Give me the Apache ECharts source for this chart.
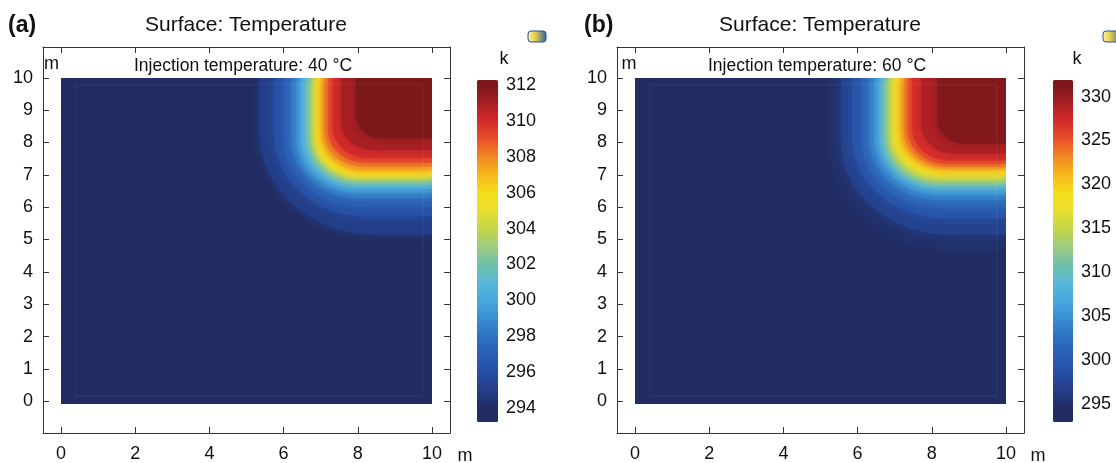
<!DOCTYPE html>
<html>
<head>
<meta charset="utf-8">
<title>Surface: Temperature</title>
<script src="https://cdn.jsdelivr.net/npm/echarts@6/dist/echarts.min.js"></script>
<style>
  html, body { margin: 0; padding: 0; background: #fff; }
  #main { width: 1116px; height: 463px; }
</style>
</head>
<body>
<div id="main"></div>
<script>
// tick labels
var xTicks = [0, 2, 4, 6, 8, 10];
var yTicks = [0, 1, 2, 3, 4, 5, 6, 7, 8, 9, 10];
var barTicksA = [294, 296, 298, 300, 302, 304, 306, 308, 310, 312];
var barTicksB = [295, 300, 305, 310, 315, 320, 325, 330];

// colour bar extent (K)
var barRangeA = [293.2, 312.3];
var barRangeB = [292.9, 331.9];

// rainbow table, spread evenly between colorRange[0] and colorRange[1]
var colorRangeA = [294, 312];
var colorRangeB = [294.5, 331.3];
var rainbow = ['#212c60', '#233e88', '#2650a5', '#2a5eb2', '#2f73c2', '#3a8ed2', '#47a8e0',
  '#58b8d8', '#70c0a8', '#9dcc80', '#c4d646', '#e8e030', '#f6dd1e', '#f7b81c', '#f08a23',
  '#e8502a', '#d52a2a', '#a81f22', '#7c171a'];

// temperature fronts:
// level (K), x where it meets the top edge, y where it meets the right edge, corner radius (m)
var levelA = [293.2, 295, 296, 297, 298, 299, 300, 301, 302, 303, 304, 305, 306, 307, 308, 309, 310, 311, 312];
var frontXA = [0, 5.35, 5.75, 6.0, 6.2, 6.35, 6.47, 6.58, 6.68, 6.76, 6.83, 6.88, 6.93, 7.02, 7.1, 7.2, 7.32, 7.55, 7.95];
var frontYA = [0, 5.2, 5.75, 6.05, 6.3, 6.47, 6.6, 6.72, 6.82, 6.9, 6.96, 7.0, 7.05, 7.15, 7.27, 7.4, 7.55, 7.8, 8.15];
var cornerA = [0, 3.1, 2.5, 2.1, 1.85, 1.65, 1.5, 1.4, 1.3, 1.25, 1.2, 1.15, 1.15, 1.1, 1.05, 1.0, 0.95, 0.85, 0.7];

var levelB = [292.9, 295, 297, 299, 301, 303, 305, 307, 309, 311, 313, 315, 317, 319, 321, 323, 325, 327, 329, 331];
var frontXB = [0, 5.2, 5.55, 5.85, 6.1, 6.3, 6.45, 6.58, 6.68, 6.76, 6.83, 6.9, 6.97, 7.05, 7.15, 7.25, 7.35, 7.47, 7.72, 8.15];
var frontYB = [0, 4.7, 5.2, 5.7, 6.0, 6.25, 6.42, 6.58, 6.68, 6.76, 6.83, 6.92, 7.02, 7.1, 7.2, 7.28, 7.37, 7.47, 7.68, 7.98];
var cornerB = [0, 3.3, 2.9, 2.5, 2.15, 1.9, 1.75, 1.6, 1.5, 1.42, 1.36, 1.3, 1.25, 1.2, 1.15, 1.1, 1.05, 1.0, 0.9, 0.75];

// faint mesh boundary inside the domain (m)
var meshEdge = [[0.4, 0.25, 9.75, 9.8]];

var FONT = '"Liberation Sans", Arial, Helvetica, sans-serif';
var INK = '#111';

function rows(lv, fx, fy, rc) {
  return lv.map(function (t, i) { return [t, fx[i], fy[i], rc[i]]; });
}

// region at or above a level: rounded corner front anchored at the top right
function renderFront(params, api) {
  var a = api.value(1), b = api.value(2), r = api.value(3);
  var pts = [api.coord([a, 10])];
  for (var i = 0; i <= 16; i++) {
    var t = Math.PI * (1 + i / 32);
    pts.push(api.coord([a + r + r * Math.cos(t), b + r + r * Math.sin(t)]));
  }
  pts.push(api.coord([10, b]), api.coord([10, 10]));
  var c = api.visual('color');
  var style = { fill: c };
  if (params.dataIndex > 0) {
    // soften the band edges like the smooth shading of the original
    style.shadowBlur = 10;
    style.shadowColor = c;
  }
  return { type: 'polygon', shape: { points: pts }, style: style };
}

function renderMesh(params, api) {
  var p0 = api.coord([api.value(0), api.value(1)]);
  var p1 = api.coord([api.value(2), api.value(3)]);
  return {
    type: 'rect',
    shape: { x: p0[0], y: p1[1], width: p1[0] - p0[0], height: p0[1] - p1[1] },
    style: { fill: null, stroke: 'rgba(255,255,255,0.05)', lineWidth: 1.5 }
  };
}

function barStops(barRange, colorRange) {
  var span = barRange[1] - barRange[0];
  var stops = [{ offset: 0, color: rainbow[0] }];
  rainbow.forEach(function (c, k) {
    var v = colorRange[0] + k * (colorRange[1] - colorRange[0]) / (rainbow.length - 1);
    stops.push({ offset: (v - barRange[0]) / span, color: c });
  });
  stops.push({ offset: 1, color: rainbow[rainbow.length - 1] });
  return stops;
}

function renderBar(stops) {
  return function (params, api) {
    var p0 = api.coord([api.value(0), api.value(1)]);
    var p1 = api.coord([api.value(2), api.value(3)]);
    return {
      type: 'rect',
      shape: { x: p0[0], y: p1[1], width: p1[0] - p0[0], height: p0[1] - p1[1], r: 1.5 },
      style: { fill: new echarts.graphic.LinearGradient(0, 1, 0, 0, stops) }
    };
  };
}

function frameX(grid, pos, labels) {
  return {
    gridIndex: grid, type: 'value', position: pos, min: -0.485, max: 10.485,
    axisLine: { show: true, onZero: false, lineStyle: { color: '#333', width: 1 } },
    axisTick: { show: true, inside: true, length: 6, customValues: xTicks, lineStyle: { color: '#333' } },
    axisLabel: { show: labels, customValues: xTicks, margin: 12, fontSize: 18, color: INK, fontFamily: FONT },
    splitLine: { show: false }
  };
}
function frameY(grid, pos, labels) {
  return {
    gridIndex: grid, type: 'value', position: pos, min: -0.982, max: 10.951,
    axisLine: { show: true, onZero: false, lineStyle: { color: '#333', width: 1 } },
    axisTick: { show: true, inside: true, length: 6, customValues: yTicks, lineStyle: { color: '#333' } },
    axisLabel: { show: labels, customValues: yTicks, margin: 10, fontSize: 18, color: INK, fontFamily: FONT },
    splitLine: { show: false }
  };
}
function hiddenAxis(grid, min, max) {
  return { gridIndex: grid, type: 'value', min: min, max: max, show: false };
}
function barY(grid, pos, range, ticks, labels) {
  return {
    gridIndex: grid, type: 'value', position: pos, min: range[0], max: range[1],
    axisLine: { show: false, onZero: false },
    axisTick: { show: true, inside: true, length: 3, customValues: ticks, lineStyle: { color: '#333' } },
    axisLabel: { show: labels, customValues: ticks, margin: 8, fontSize: 18, color: INK, fontFamily: FONT },
    splitLine: { show: false }
  };
}

function txt(x, y, s, size, align, bold) {
  return {
    type: 'text', x: x, y: y, silent: true,
    style: {
      text: s, fill: INK, font: (bold ? 'bold ' : '') + size + 'px ' + FONT,
      textAlign: align, align: align, textVerticalAlign: 'middle', verticalAlign: 'middle'
    }
  };
}
function icon(x, y, w) {
  return {
    type: 'rect', x: x, y: y, silent: true,
    shape: { width: w, height: 11, r: 3 },
    style: {
      fill: new echarts.graphic.LinearGradient(0, 0, 1, 0, [
        { offset: 0, color: '#fbf3b0' }, { offset: 0.4, color: '#e9cf45' }, { offset: 1, color: '#2f5fb5' }
      ]),
      stroke: '#2a4c96', lineWidth: 1
    }
  };
}

var chart = echarts.init(document.getElementById('main'), null, { renderer: 'canvas' });

chart.setOption({
  animation: false,
  backgroundColor: '#fff',
  grid: [
    { left: 43, top: 47, width: 407, height: 389 },   // frame (a)
    { left: 617, top: 47, width: 407, height: 389 },  // frame (b)
    { left: 477, top: 80, width: 21, height: 342 },   // colour bar (a)
    { left: 1053, top: 80, width: 20, height: 342 },  // colour bar (b)
    { left: 61, top: 78, width: 371, height: 326 },   // domain (a)
    { left: 635, top: 78, width: 371, height: 326 }   // domain (b)
  ],
  xAxis: [
    frameX(0, 'bottom', true), frameX(0, 'top', false),
    frameX(1, 'bottom', true), frameX(1, 'top', false),
    hiddenAxis(2, 0, 1), hiddenAxis(3, 0, 1),
    hiddenAxis(4, 0, 10), hiddenAxis(5, 0, 10)
  ],
  yAxis: [
    frameY(0, 'left', true), frameY(0, 'right', false),
    frameY(1, 'left', true), frameY(1, 'right', false),
    barY(2, 'right', barRangeA, barTicksA, true), barY(2, 'left', barRangeA, barTicksA, false),
    barY(3, 'right', barRangeB, barTicksB, true), barY(3, 'left', barRangeB, barTicksB, false),
    hiddenAxis(4, 0, 10), hiddenAxis(5, 0, 10)
  ],
  visualMap: [
    { show: false, type: 'continuous', seriesIndex: 0, dimension: 0,
      min: colorRangeA[0], max: colorRangeA[1], inRange: { color: rainbow } },
    { show: false, type: 'continuous', seriesIndex: 1, dimension: 0,
      min: colorRangeB[0], max: colorRangeB[1], inRange: { color: rainbow } }
  ],
  series: [
    { type: 'custom', xAxisIndex: 6, yAxisIndex: 8, renderItem: renderFront, clip: true,
      data: rows(levelA, frontXA, frontYA, cornerA), silent: true },
    { type: 'custom', xAxisIndex: 7, yAxisIndex: 9, renderItem: renderFront, clip: true,
      data: rows(levelB, frontXB, frontYB, cornerB), silent: true },
    { type: 'custom', xAxisIndex: 4, yAxisIndex: 4, renderItem: renderBar(barStops(barRangeA, colorRangeA)),
      data: [[0, barRangeA[0], 1, barRangeA[1]]], silent: true },
    { type: 'custom', xAxisIndex: 5, yAxisIndex: 6, renderItem: renderBar(barStops(barRangeB, colorRangeB)),
      data: [[0, barRangeB[0], 1, barRangeB[1]]], silent: true },
    { type: 'custom', xAxisIndex: 6, yAxisIndex: 8, renderItem: renderMesh, data: meshEdge, silent: true, z: 3 },
    { type: 'custom', xAxisIndex: 7, yAxisIndex: 9, renderItem: renderMesh, data: meshEdge, silent: true, z: 3 }
  ],
  graphic: [
    txt(8, 26, '(a)', 23, 'left', true),
    txt(246, 25.5, 'Surface: Temperature', 21, 'center'),
    txt(243, 66, 'Injection temperature: 40 °C', 17.5, 'center'),
    txt(51.5, 64, 'm', 18, 'center'),
    txt(465, 456, 'm', 18, 'center'),
    txt(504, 59, 'k', 18, 'center'),
    icon(528, 31, 18),
    txt(584, 26, '(b)', 23, 'left', true),
    txt(820, 25.5, 'Surface: Temperature', 21, 'center'),
    txt(817, 66, 'Injection temperature: 60 °C', 17.5, 'center'),
    txt(629, 64, 'm', 18, 'center'),
    txt(1038, 456, 'm', 18, 'center'),
    txt(1077, 59, 'k', 18, 'center'),
    icon(1103, 31, 18)
  ]
});
</script>
</body>
</html>
